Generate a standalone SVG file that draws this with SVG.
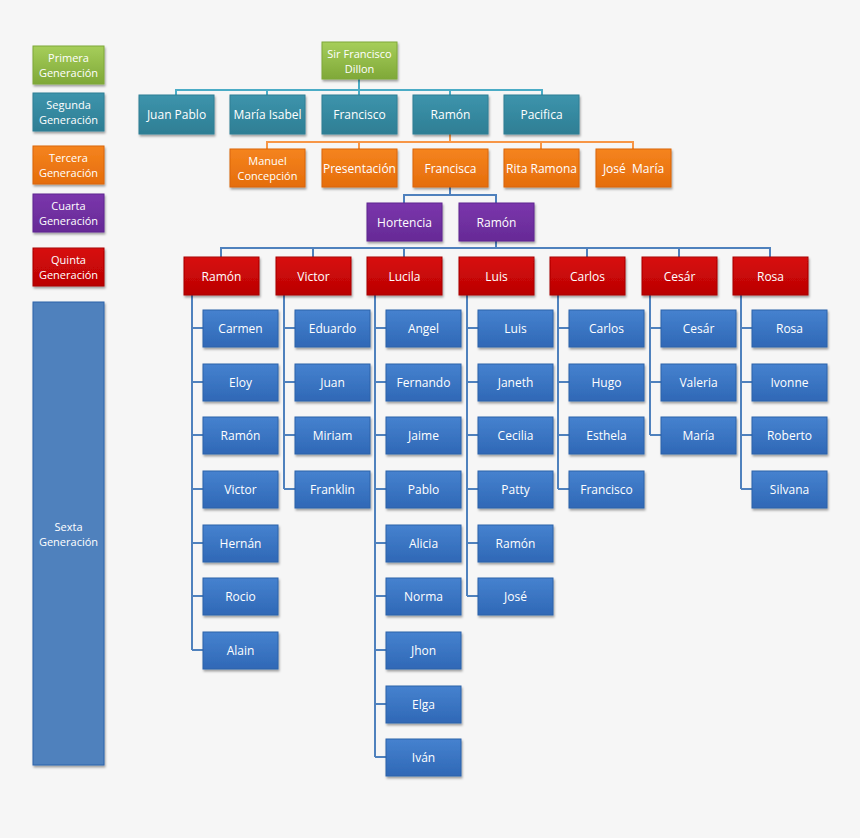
<svg xmlns="http://www.w3.org/2000/svg" width="860" height="838" viewBox="0 0 860 838">
<defs>
<linearGradient id="gG" x1="0" y1="0" x2="0" y2="1"><stop offset="0" stop-color="#A6CE5A"/><stop offset="1" stop-color="#7FA838"/></linearGradient>
<linearGradient id="gT" x1="0" y1="0" x2="0" y2="1"><stop offset="0" stop-color="#3D94AC"/><stop offset="1" stop-color="#2E7E94"/></linearGradient>
<linearGradient id="gO" x1="0" y1="0" x2="0" y2="1"><stop offset="0" stop-color="#F5841E"/><stop offset="1" stop-color="#E56D0C"/></linearGradient>
<linearGradient id="gP" x1="0" y1="0" x2="0" y2="1"><stop offset="0" stop-color="#7B36AC"/><stop offset="1" stop-color="#662A96"/></linearGradient>
<linearGradient id="gR" x1="0" y1="0" x2="0" y2="1"><stop offset="0" stop-color="#D80A0A"/><stop offset="1" stop-color="#BA0404"/></linearGradient>
<linearGradient id="gB" x1="0" y1="0" x2="0" y2="1"><stop offset="0" stop-color="#4682CF"/><stop offset="1" stop-color="#2F68B6"/></linearGradient>
<filter id="sh" x="-10%" y="-10%" width="130%" height="140%"><feDropShadow dx="1" dy="2" stdDeviation="1" flood-opacity="0.35"/></filter>
</defs>
<style>
rect{filter:url(#sh)}
.g{fill:url(#gG);stroke:#7FA838}
.t{fill:url(#gT);stroke:#2E7E94}
.o{fill:url(#gO);stroke:#D9650A}
.p{fill:url(#gP);stroke:#5E2690}
.r{fill:url(#gR);stroke:#A80404}
.b{fill:url(#gB);stroke:#2C62AA}
text{font-family:"Open Sans","Liberation Sans",sans-serif;font-size:12px;fill:#fff;text-anchor:middle;dominant-baseline:central}
text.s{font-size:11px}
.ct{stroke:#4BACC6;stroke-width:2;fill:none}
.co{stroke:#F79646;stroke-width:2;fill:none}
.cb{stroke:#4F81BD;stroke-width:2;fill:none}
</style>
<rect width="860" height="838" fill="#F6F6F6" style="filter:none"/>
<g id="legend">
<rect class="g" x="33" y="46" width="71" height="38"/><text class="s" x="68.5" y="57">Primera</text><text class="s" x="68.5" y="72">Generación</text>
<rect class="t" x="33" y="93" width="71" height="38"/><text class="s" x="68.5" y="104">Segunda</text><text class="s" x="68.5" y="119">Generación</text>
<rect class="o" x="33" y="146" width="71" height="38"/><text class="s" x="68.5" y="157">Tercera</text><text class="s" x="68.5" y="172">Generación</text>
<rect class="p" x="33" y="194" width="71" height="38"/><text class="s" x="68.5" y="205">Cuarta</text><text class="s" x="68.5" y="220">Generación</text>
<rect class="r" x="33" y="248" width="71" height="38"/><text class="s" x="68.5" y="259">Quinta</text><text class="s" x="68.5" y="274">Generación</text>
<rect class="b" x="33" y="302" width="71" height="463" style="fill:#4F81BD"/><text class="s" x="68.5" y="526">Sexta</text><text class="s" x="68.5" y="541">Generación</text>
</g>
<g id="connectors">
<path class="ct" d="M359 79V90M176 95V90H542V95M267 90V95M359 90V95M450 90V95"/>
<path class="co" d="M450 134V142M267 149V142H633V149M359 142V149M541 142V149"/>
<path class="cb" d="M450 187V195M404 203V195H496V203"/>
<path class="cb" d="M496 241V248M221 257V248H770V257M313 248V257M404 248V257M587 248V257M679 248V257"/>
<path class="cb" d="M192 295V650M192 328H203M192 382H203M192 435H203M192 489H203M192 543H203M192 596H203M192 650H203"/>
<path class="cb" d="M284 295V489M284 328H295M284 382H295M284 435H295M284 489H295"/>
<path class="cb" d="M375 295V757M375 328H386M375 382H386M375 435H386M375 489H386M375 543H386M375 596H386M375 650H386M375 704H386M375 757H386"/>
<path class="cb" d="M467 295V596M467 328H478M467 382H478M467 435H478M467 489H478M467 543H478M467 596H478"/>
<path class="cb" d="M558 295V489M558 328H569M558 382H569M558 435H569M558 489H569"/>
<path class="cb" d="M650 295V435M650 328H661M650 382H661M650 435H661"/>
<path class="cb" d="M741 295V489M741 328H752M741 382H752M741 435H752M741 489H752"/>
</g>
<g id="n-sir"><rect class="g" x="322" y="42" width="75" height="37"/><text class="s" x="359.5" y="53">Sir Francisco</text><text class="s" x="359.5" y="68">Dillon</text></g>
<g id="n-juanpablo"><rect class="t" x="139" y="95" width="75" height="39"/><text x="176.5" y="114">Juan Pablo</text></g>
<g id="n-mariaisabel"><rect class="t" x="230" y="95" width="75" height="39"/><text x="267.5" y="114">María Isabel</text></g>
<g id="n-francisco"><rect class="t" x="322" y="95" width="75" height="39"/><text x="359.5" y="114">Francisco</text></g>
<g id="n-ramon2"><rect class="t" x="413" y="95" width="75" height="39"/><text x="450.5" y="114">Ramón</text></g>
<g id="n-pacifica"><rect class="t" x="504" y="95" width="75" height="39"/><text x="541.5" y="114">Pacifica</text></g>
<g id="n-manuel"><rect class="o" x="230" y="149" width="75" height="38"/><text class="s" x="267.5" y="160">Manuel</text><text class="s" x="267.5" y="175">Concepción</text></g>
<g id="n-presentacion"><rect class="o" x="322" y="149" width="75" height="38"/><text x="359.5" y="168">Presentación</text></g>
<g id="n-francisca"><rect class="o" x="413" y="149" width="75" height="38"/><text x="450.5" y="168">Francisca</text></g>
<g id="n-rita"><rect class="o" x="504" y="149" width="75" height="38"/><text x="541.5" y="168">Rita Ramona</text></g>
<g id="n-josemaria"><rect class="o" x="596" y="149" width="75" height="38"/><text x="633.5" y="168" xml:space="preserve">José  María</text></g>
<g id="n-hortencia"><rect class="p" x="367" y="203" width="75" height="38"/><text x="404.5" y="222">Hortencia</text></g>
<g id="n-ramon4"><rect class="p" x="459" y="203" width="75" height="38"/><text x="496.5" y="222">Ramón</text></g>
<g id="n-ramon5"><rect class="r" x="184" y="257" width="75" height="38"/><text x="221.5" y="276">Ramón</text></g>
<g id="n-victor5"><rect class="r" x="276" y="257" width="75" height="38"/><text x="313.5" y="276">Victor</text></g>
<g id="n-lucila"><rect class="r" x="367" y="257" width="75" height="38"/><text x="404.5" y="276">Lucila</text></g>
<g id="n-luis5"><rect class="r" x="459" y="257" width="75" height="38"/><text x="496.5" y="276">Luis</text></g>
<g id="n-carlos5"><rect class="r" x="550" y="257" width="75" height="38"/><text x="587.5" y="276">Carlos</text></g>
<g id="n-cesar5"><rect class="r" x="642" y="257" width="75" height="38"/><text x="679.5" y="276">Cesár</text></g>
<g id="n-rosa5"><rect class="r" x="733" y="257" width="75" height="38"/><text x="770.5" y="276">Rosa</text></g>
<g id="col-ramon">
<g id="n-carmen"><rect class="b" x="203" y="310" width="75" height="37"/><text x="240.5" y="328">Carmen</text></g>
<g id="n-eloy"><rect class="b" x="203" y="364" width="75" height="37"/><text x="240.5" y="382">Eloy</text></g>
<g id="n-ramon6"><rect class="b" x="203" y="417" width="75" height="37"/><text x="240.5" y="435">Ramón</text></g>
<g id="n-victor6"><rect class="b" x="203" y="471" width="75" height="37"/><text x="240.5" y="489">Victor</text></g>
<g id="n-hernan"><rect class="b" x="203" y="525" width="75" height="37"/><text x="240.5" y="543">Hernán</text></g>
<g id="n-rocio"><rect class="b" x="203" y="578" width="75" height="37"/><text x="240.5" y="596">Rocio</text></g>
<g id="n-alain"><rect class="b" x="203" y="632" width="75" height="37"/><text x="240.5" y="650">Alain</text></g>
</g>
<g id="col-victor">
<g id="n-eduardo"><rect class="b" x="295" y="310" width="75" height="37"/><text x="332.5" y="328">Eduardo</text></g>
<g id="n-juan"><rect class="b" x="295" y="364" width="75" height="37"/><text x="332.5" y="382">Juan</text></g>
<g id="n-miriam"><rect class="b" x="295" y="417" width="75" height="37"/><text x="332.5" y="435">Miriam</text></g>
<g id="n-franklin"><rect class="b" x="295" y="471" width="75" height="37"/><text x="332.5" y="489">Franklin</text></g>
</g>
<g id="col-lucila">
<g id="n-angel"><rect class="b" x="386" y="310" width="75" height="37"/><text x="423.5" y="328">Angel</text></g>
<g id="n-fernando"><rect class="b" x="386" y="364" width="75" height="37"/><text x="423.5" y="382">Fernando</text></g>
<g id="n-jaime"><rect class="b" x="386" y="417" width="75" height="37"/><text x="423.5" y="435">Jaime</text></g>
<g id="n-pablo"><rect class="b" x="386" y="471" width="75" height="37"/><text x="423.5" y="489">Pablo</text></g>
<g id="n-alicia"><rect class="b" x="386" y="525" width="75" height="37"/><text x="423.5" y="543">Alicia</text></g>
<g id="n-norma"><rect class="b" x="386" y="578" width="75" height="37"/><text x="423.5" y="596">Norma</text></g>
<g id="n-jhon"><rect class="b" x="386" y="632" width="75" height="37"/><text x="423.5" y="650">Jhon</text></g>
<g id="n-elga"><rect class="b" x="386" y="686" width="75" height="37"/><text x="423.5" y="704">Elga</text></g>
<g id="n-ivan"><rect class="b" x="386" y="739" width="75" height="37"/><text x="423.5" y="757">Iván</text></g>
</g>
<g id="col-luis">
<g id="n-luis6"><rect class="b" x="478" y="310" width="75" height="37"/><text x="515.5" y="328">Luis</text></g>
<g id="n-janeth"><rect class="b" x="478" y="364" width="75" height="37"/><text x="515.5" y="382">Janeth</text></g>
<g id="n-cecilia"><rect class="b" x="478" y="417" width="75" height="37"/><text x="515.5" y="435">Cecilia</text></g>
<g id="n-patty"><rect class="b" x="478" y="471" width="75" height="37"/><text x="515.5" y="489">Patty</text></g>
<g id="n-ramon6b"><rect class="b" x="478" y="525" width="75" height="37"/><text x="515.5" y="543">Ramón</text></g>
<g id="n-jose"><rect class="b" x="478" y="578" width="75" height="37"/><text x="515.5" y="596">José</text></g>
</g>
<g id="col-carlos">
<g id="n-carlos6"><rect class="b" x="569" y="310" width="75" height="37"/><text x="606.5" y="328">Carlos</text></g>
<g id="n-hugo"><rect class="b" x="569" y="364" width="75" height="37"/><text x="606.5" y="382">Hugo</text></g>
<g id="n-esthela"><rect class="b" x="569" y="417" width="75" height="37"/><text x="606.5" y="435">Esthela</text></g>
<g id="n-francisco6"><rect class="b" x="569" y="471" width="75" height="37"/><text x="606.5" y="489">Francisco</text></g>
</g>
<g id="col-cesar">
<g id="n-cesar6"><rect class="b" x="661" y="310" width="75" height="37"/><text x="698.5" y="328">Cesár</text></g>
<g id="n-valeria"><rect class="b" x="661" y="364" width="75" height="37"/><text x="698.5" y="382">Valeria</text></g>
<g id="n-maria"><rect class="b" x="661" y="417" width="75" height="37"/><text x="698.5" y="435">María</text></g>
</g>
<g id="col-rosa">
<g id="n-rosa6"><rect class="b" x="752" y="310" width="75" height="37"/><text x="789.5" y="328">Rosa</text></g>
<g id="n-ivonne"><rect class="b" x="752" y="364" width="75" height="37"/><text x="789.5" y="382">Ivonne</text></g>
<g id="n-roberto"><rect class="b" x="752" y="417" width="75" height="37"/><text x="789.5" y="435">Roberto</text></g>
<g id="n-silvana"><rect class="b" x="752" y="471" width="75" height="37"/><text x="789.5" y="489">Silvana</text></g>
</g>
</svg>
